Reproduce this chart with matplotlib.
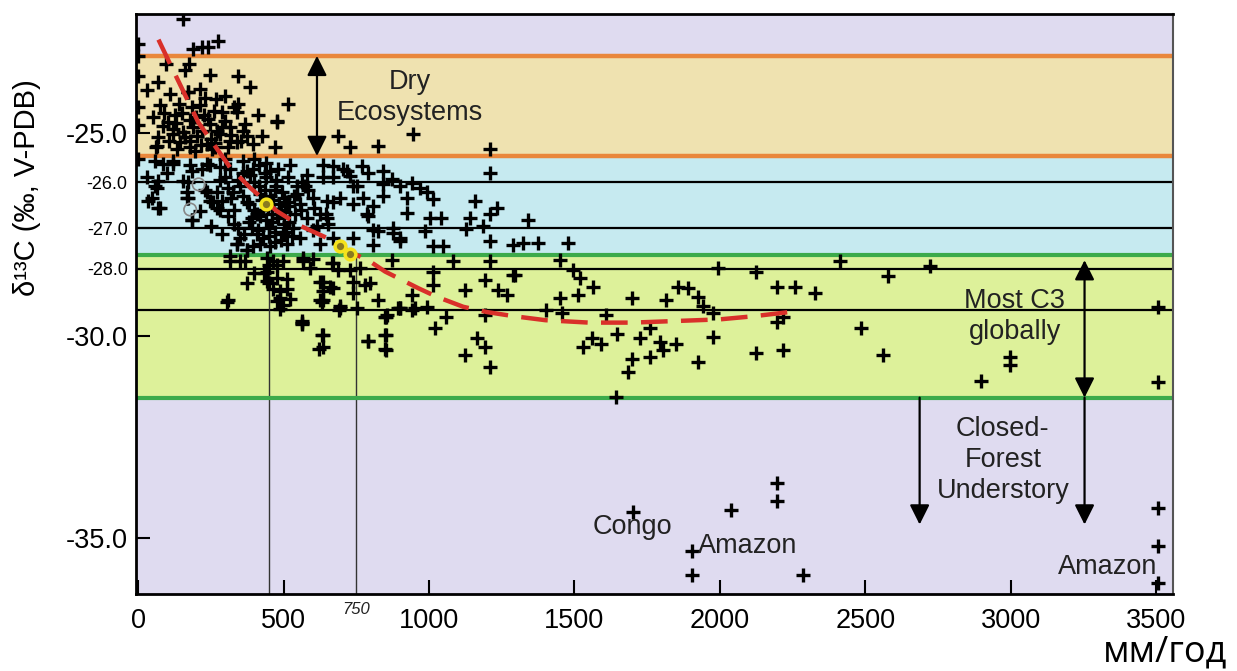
import matplotlib
matplotlib.use('Agg')
import matplotlib.pyplot as plt

plt.rcParams['font.family'] = ['Liberation Sans', 'DejaVu Sans']

# точки: осадки (мм/год) и d13C
# сухие экосистемы (выше -25.5)
dry_x = [155, 190, 219, 242, 273, 0, 0, 0, 0, 0, 161, 247, 345, 385, 70, 30, 173, 213, 268, 76,
         213, 288, 345, 339, 413, 517, 476, 127, 104, 87, 179, 247, 368, 121, 156, 202, 282, 316,
         374, 425, 70, 64, 144, 236, 339, 396, 471, 179, 265, 316, 688, 729, 826, 944, 1210, 477,
         120, 180, 220, 250, 290, 320, 360, 200, 260, 140, 230, 300, 170, 110, 50, 60, 330,
         90, 130, 160, 190, 215, 240, 265, 300, 150, 185, 225, 270, 105, 135, 195, 255, 310, 355,
         95, 175]
dry_y = [-22.2, -22.92, -22.88, -22.88, -22.73, -22.8, -23.1, -23.6, -24.37, -24.8, -23.45, -23.58,
         -23.6, -23.87, -23.74, -23.95, -23.99, -23.91, -24.16, -24.32, -24.32, -24.49, -24.28,
         -24.49, -24.55, -24.28, -24.74, -24.57, -24.74, -24.82, -24.69, -24.78, -24.78, -25.03,
         -24.98, -25.07, -25.03, -24.86, -25.07, -25.07, -25.11, -25.32, -25.23, -25.28, -25.23,
         -25.28, -25.36, -25.36, -25.36, -25.19, -25.07, -25.36, -25.32, -25.04, -25.4, -24.7,
         -24.9, -25.2, -24.95, -25.15, -24.85, -25.05, -24.95, -24.6, -24.45, -24.3, -24.15, -24.1,
         -24.0, -24.05, -24.6, -25.35, -24.35,
         -24.5, -24.75, -25.1, -24.85, -25.3, -24.65, -25.25, -24.7, -24.5, -24.35, -24.55, -24.95,
         -25.2, -25.4, -25.45, -25.4, -25.35, -25.2, -23.3, -23.3]

# умеренные (голубая полоса и чуть ниже)
mid_x = [0, 58, 31, 58, 48, 76, 120, 100, 179, 172, 168, 185, 230, 258, 282, 220, 247, 282, 316,
         326, 350, 374, 385, 392, 412, 419, 450, 477, 499, 512, 533, 557, 512, 546, 522, 580, 603,
         625, 636, 670, 718, 752, 740, 670, 774, 786, 808, 877, 900, 843, 900, 923, 653, 670, 625,
         603, 340, 374, 87, 70, 64, 35, 70, 184, 156, 167, 173, 236, 247, 270, 288, 213, 184, 236,
         282, 121, 1210, 1158, 1233, 1210, 1141, 1129, 1187, 1210, 1290, 1043, 1003, 986, 923,
         1015, 992, 969, 940, 872, 843, 808, 791, 769, 791, 729, 740, 694, 671, 706, 843, 826, 877,
         900, 808, 740, 1015, 1049, 649, 649, 637, 1341, 1324, 1376, 1479,
         300, 330, 360, 400, 420, 440, 470, 490, 520, 460, 430, 410, 380, 350, 560, 580, 540, 470,
         500, 480, 440, 400, 360, 300, 270, 250, 290, 310, 320,
         415, 435, 455, 475, 495, 425, 445, 465, 485, 505, 400, 420, 440, 460, 480, 500, 520, 390,
         410, 430, 450, 470, 490, 510, 530, 360, 380, 345, 365, 545, 565, 585, 605, 395, 415, 455,
         475, 435, 455, 395, 345, 375, 515, 535, 555, 575, 615, 645, 330, 310]
mid_y = [-25.65, -25.7, -26.1, -26.3, -26.6, -26.85, -25.7, -26.0, -25.8, -26.2, -26.6, -27.15,
         -26.4, -26.7, -26.9, -25.9, -25.8, -26.15, -25.9, -26.45, -26.3, -26.7, -26.05, -27.1,
         -27.4, -27.75, -27.35, -27.0, -27.5, -27.75, -27.35, -27.6, -26.7, -26.3, -25.8, -26.05,
         -26.6, -27.0, -25.8, -26.1, -25.95, -26.3, -26.75, -26.7, -26.6, -27.0, -27.4, -27.35,
         -27.6, -25.95, -26.3, -26.6, -27.25, -27.6, -27.75, -27.4, -27.75, -27.9, -25.77, -26.18,
         -26.35, -26.68, -26.85, -25.94, -26.18, -26.47, -26.6, -26.47, -26.68, -26.85, -26.68,
         -26.93, -27.14, -25.77, -25.85, -25.77, -25.98, -26.68, -26.85, -27.01, -27.09, -27.38,
         -27.3, -27.67, -27.76, -27.09, -27.09, -27.42, -26.97, -26.64, -26.47, -26.35, -26.23,
         -26.14, -26.56, -26.8, -27.05, -25.81, -25.98, -26.06, -26.31, -26.6, -25.81, -25.9,
         -26.27, -27.42, -27.47, -27.67, -27.76, -27.59, -27.8, -27.8, -26.68, -27.09, -26.1,
         -27.14, -27.71, -27.71, -27.71,
         -26.1, -26.9, -26.0, -26.2, -26.5, -26.1, -26.4, -26.9, -27.2, -27.2, -26.9, -27.0, -27.2,
         -27.6, -26.9, -27.1, -27.0, -27.7, -26.6, -25.9, -25.75, -25.65, -25.7, -25.65, -26.45,
         -27.3, -27.5, -27.05, -26.6,
         -26.3, -26.4, -26.55, -26.3, -26.45, -26.65, -26.8, -26.65, -26.75, -26.95, -26.9, -27.05,
         -27.15, -27.0, -27.1, -27.25, -26.8, -27.35, -27.5, -27.6, -27.55, -27.45, -27.65, -27.45,
         -27.55, -26.55, -26.75, -27.35, -27.5, -26.5, -26.2, -26.4, -26.85, -25.9, -25.8, -25.95,
         -26.15, -26.0, -27.8, -27.8, -26.15, -25.95, -26.1, -26.55, -26.75, -26.3, -27.3, -27.0,
         -27.25, -26.35]

# влажные (зелёная полоса)
wet_x = [316, 368, 305, 631, 562, 625, 591, 568, 442, 442, 442, 477, 477, 488, 488, 499, 309, 563,
         625, 636, 670, 694, 752, 797, 855, 894, 562, 631, 623, 791, 851, 851, 851, 691, 900, 940,
         665, 688, 729, 763, 637, 660, 740, 780, 740, 637, 694, 826, 900, 940, 952, 992, 849, 849,
         849, 791, 637, 637, 1021, 1060, 1015, 1015, 1124, 1192, 1290, 1238, 1267, 1192, 1164,
         1192, 1124, 1210, 1084, 1210, 872, 1450, 1496, 1519, 1296, 1565, 1513, 1450, 1404, 1456,
         1610, 1645, 1559, 1531, 1593, 1697, 1816, 1857, 1891, 1926, 1943, 1977, 1994, 2126, 2195,
         2258, 2195, 2217, 2126, 2217, 1977, 1926, 1759, 1725, 1794, 1805, 1851, 1697, 1759, 1685,
         2412, 2722, 2578, 2326, 2487, 2562, 2899, 2997, 2997, 3506, 3506, 1643,
         340, 374, 316, 350, 450, 464, 499, 568, 603, 670, 512, 512, 522, 464, 477, 488, 450, 433,
         397, 374]
wet_y = [-28.04, -28.17, -29.16, -29.16, -29.7, -28.67, -28.33, -28.09, -28.09, -28.42, -28.66,
         -28.25, -28.58, -28.91, -29.08, -29.25, -29.13, -29.65, -29.13, -28.9, -28.83, -29.28,
         -29.33, -28.7, -29.5, -29.33, -29.72, -29.99, -30.34, -30.14, -29.53, -29.99, -30.36,
         -29.37, -29.33, -29.37, -28.21, -28.38, -28.38, -28.33, -28.67, -28.79, -28.67, -28.75,
         -28.96, -29.12, -29.33, -29.12, -29.33, -29.0, -29.33, -29.29, -29.53, -29.99, -30.32,
         -30.14, -29.99, -30.28, -29.82, -29.55, -28.42, -28.75, -28.87, -28.63, -28.5, -28.87,
         -29.0, -29.49, -30.07, -30.28, -30.49, -30.77, -28.17, -28.17, -28.13, -28.13, -28.38,
         -28.58, -28.5, -28.79, -29.0, -29.08, -29.37, -29.45, -29.49, -29.95, -30.07, -30.28,
         -30.2, -29.08, -29.12, -28.79, -28.83, -29.04, -29.28, -29.45, -28.33, -28.42, -28.79,
         -28.79, -29.66, -29.53, -30.44, -30.36, -30.03, -30.65, -29.82, -30.07, -30.15, -30.36,
         -30.2, -30.57, -30.53, -30.9, -28.17, -28.29, -28.54, -28.96, -29.82, -30.49, -31.11,
         -30.53, -30.73, -29.29, -31.15, -31.52,
         -27.75, -27.9, -28.15, -28.15, -28.25, -28.15, -28.15, -28.15, -28.1, -28.2, -28.6,
         -28.85, -29.1, -28.85, -29.15, -29.35, -28.7, -28.45, -28.45, -28.7]

# сомкнутый лес (ниже -31.5)
forest_x = [1700, 2040, 2198, 2198, 1906, 1906, 2286, 3506, 3506, 3506]
forest_y = [-34.35, -34.31, -33.63, -34.08, -35.32, -35.9, -35.9, -34.25, -35.18, -36.11]

# серые и жёлтые кружки
open_x = [208, 179]
open_y = [-26.27, -26.89]
yellow_x = [440, 694, 729]
yellow_y = [-26.75, -27.8, -27.99]

# красная пунктирная кривая
curve_x = [70, 110, 207, 316, 385, 477, 560, 649, 720, 797, 849, 963, 1026, 1118, 1200, 1290,
           1400, 1550, 1700, 1850, 2000, 2120, 2250]
curve_y = [-22.7, -23.3, -24.74, -25.85, -26.35, -26.93, -27.3, -27.59, -27.9, -28.17, -28.42,
           -28.83, -29.04, -29.29, -29.42, -29.52, -29.62, -29.68, -29.68, -29.64, -29.6, -29.52,
           -29.41]

# границы полос
dry_top, dry_bot = -23.1, -25.57
c3_top, c3_bot = -28.0, -31.53
black_lines = [-26.22, -27.35, -28.35, -29.36]
small_labels = ['-26.0', '-27.0', '-28.0']

fig = plt.figure(figsize=(12.37, 6.71), dpi=100)
ax = fig.add_axes([0.110, 0.115, 0.838, 0.864])
ax.set_facecolor('#dfdbf0')
ax.set_xlim(-7, 3557)
ax.set_ylim(-36.37, -22.07)

ax.axhspan(dry_bot, dry_top, color='#efe2b0', zorder=0)
ax.axhspan(c3_top, dry_bot, color='#c6eaf0', zorder=0)
ax.axhspan(c3_bot, c3_top, color='#ddf19a', zorder=0)
for yy in black_lines:
    ax.axhline(yy, color='black', lw=1.6, zorder=1)
ax.axhline(dry_top, color='#e9873c', lw=3.2, zorder=2)
ax.axhline(dry_bot, color='#e9873c', lw=3.2, zorder=2)
ax.axhline(c3_top, color='#3caa4b', lw=3.0, zorder=2)
ax.axhline(c3_bot, color='#3caa4b', lw=3.0, zorder=2)

for xv in [450, 750]:
    ax.plot([xv, xv], [-36.37, c3_top], color='#333333', lw=1.0, zorder=1)

all_x = dry_x + mid_x + wet_x + forest_x
all_y = dry_y + mid_y + wet_y + forest_y
ax.scatter(all_x, all_y, marker='+', s=100, linewidths=2.4, color='black', zorder=3)

ax.plot(curve_x, curve_y, color='#d9302a', lw=3.2, dashes=(6, 3), zorder=4)
ax.scatter(open_x, open_y, s=80, facecolors='none', edgecolors='#888888', linewidths=1.2, zorder=5)
ax.scatter(yellow_x, yellow_y, s=60, facecolors='#8a7a20', edgecolors='#f5e31c', linewidths=2.5,
           zorder=5)

# стрелки и подписи
arrow_kw = dict(arrowstyle='<|-|>', color='black', lw=1.6, mutation_scale=30, shrinkA=0, shrinkB=0)
down_kw = dict(arrowstyle='-|>', color='black', lw=1.6, mutation_scale=30, shrinkA=0, shrinkB=0)
ax.annotate('', xy=(615, dry_bot), xytext=(615, dry_top), arrowprops=arrow_kw, zorder=6)
ax.annotate('', xy=(3254, c3_bot), xytext=(3254, -28.14), arrowprops=arrow_kw, zorder=6)
ax.annotate('', xy=(2687, -34.66), xytext=(2687, c3_bot), arrowprops=down_kw, zorder=6)
ax.annotate('', xy=(3254, -34.66), xytext=(3254, c3_bot), arrowprops=down_kw, zorder=6)

txt = dict(fontsize=19.5, color='#222222', ha='center', va='center', zorder=7, linespacing=1.25)
ax.text(935, -24.12, 'Dry\nEcosystems', **txt)
ax.text(3014, -29.53, 'Most C3\nglobally', **txt)
ax.text(2973, -33.08, 'Closed-\nForest\nUnderstory', **txt)
ax.text(1698, -34.73, 'Congo', **txt)
ax.text(2096, -35.18, 'Amazon', **txt)
ax.text(3333, -35.7, 'Amazon', **txt)

ax.set_xticks([0, 500, 1000, 1500, 2000, 2500, 3000, 3500])
ax.set_yticks([-25, black_lines[0], black_lines[1], black_lines[2], -30, -35])
ax.set_yticklabels(['-25.0'] + small_labels + ['-30.0', '-35.0'])
for i, lab in enumerate(ax.get_yticklabels()):
    lab.set_fontsize(13 if 1 <= i <= 3 else 19.5)
ax.tick_params(axis='x', direction='in', length=10, width=1.5, labelsize=19.5, pad=10)
ax.tick_params(axis='y', direction='in', length=10, width=1.5, pad=6)
ax.text(750, -36.75, '750', fontsize=12, ha='center', va='center', color='#222222',
        style='italic', clip_on=False)

for side in ['left', 'bottom', 'top']:
    ax.spines[side].set_linewidth(2)
ax.spines['right'].set_linewidth(1.5)
ax.spines['right'].set_color('#555555')

ax.set_ylabel('δ¹³C (‰, V-PDB)', fontsize=21)
ax.yaxis.set_label_coords(-0.092, 0.70)
fig.text(0.942, 0.027, 'мм/год', fontsize=26, family=['Open Sans', 'DejaVu Sans'],
         ha='center', va='center')

fig.savefig('out.png', dpi=100)
